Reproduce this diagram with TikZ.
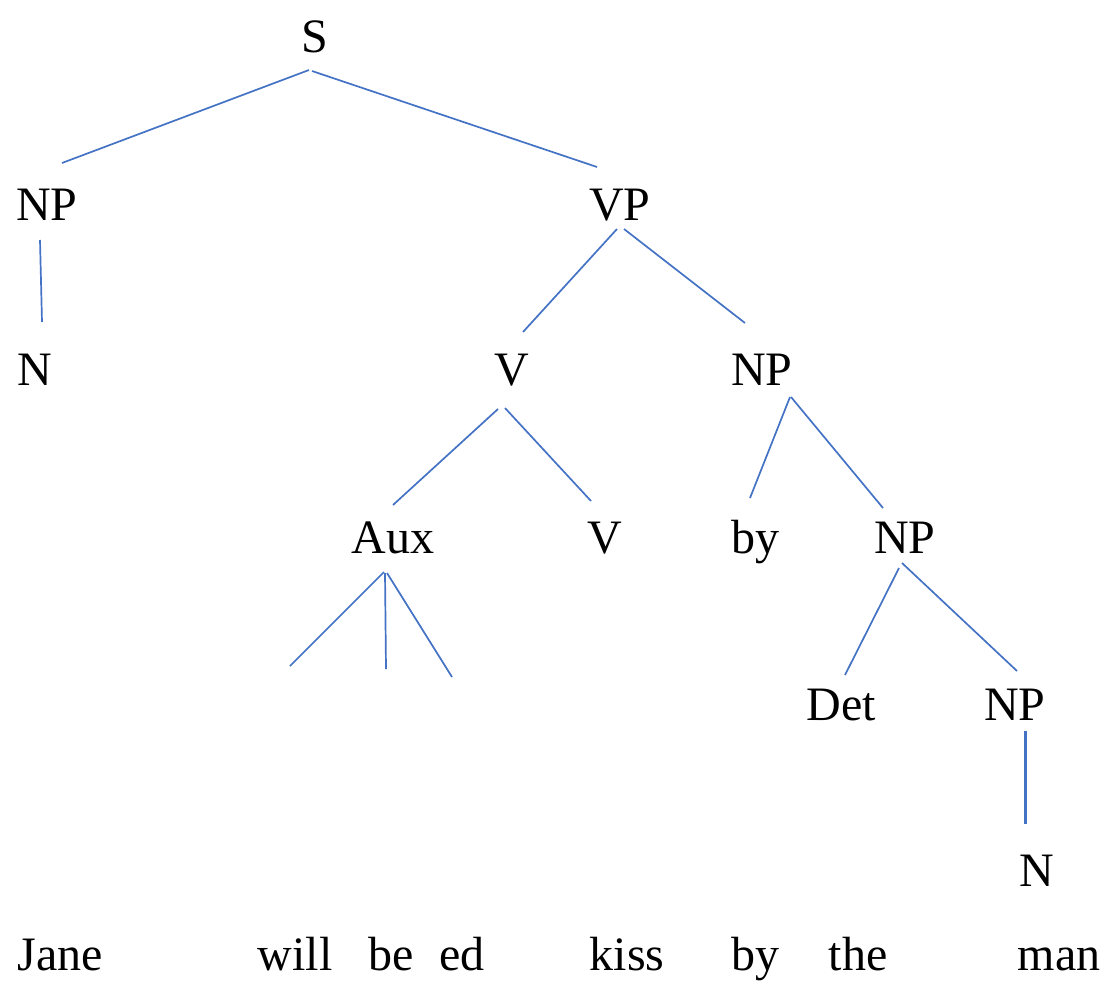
\documentclass[tikz,border=0pt]{standalone}
\usepackage{fontspec}
\setmainfont{Liberation Serif}
\definecolor{branch}{HTML}{4472C4}
\begin{document}
\begin{tikzpicture}[x=1pt,y=-1pt,
  lab/.style={anchor=base,inner sep=0pt,font=\fontsize{48}{56}\selectfont},
  br/.style={draw=branch,line width=1.7pt}]
\useasboundingbox (0,0) rectangle (1114,988);
% labels
\node[lab] (S) at (315,52) {S};
\node[lab] (NP1) at (47,220) {NP};
\node[lab] (VP) at (620,220) {VP};
\node[lab] (N1) at (35,385) {N};
\node[lab] (V1) at (512,385) {V};
\node[lab] (NP2) at (762,385) {NP};
\node[lab] (Aux) at (393,553) {Aux};
\node[lab] (V2) at (605,553) {V};
\node[lab] (by1) at (755,553) {by};
\node[lab] (NP3) at (905,553) {NP};
\node[lab] (Det) at (841,720) {Det};
\node[lab] (NP4) at (1015,720) {NP};
\node[lab] (N2) at (1037,886) {N};
% words
\node[lab] (w1) at (60,970) {Jane};
\node[lab] (w2) at (295,970) {will};
\node[lab] (w3) at (391,970) {be};
\node[lab] (w4) at (462,970) {ed};
\node[lab] (w5) at (627,970) {kiss};
\node[lab] (w6) at (755,970) {by};
\node[lab] (w7) at (858,970) {the};
\node[lab] (w8) at (1059,970) {man};
% branch end points
\coordinate (sA) at (309,70);  \coordinate (sB) at (62,163);
\coordinate (sC) at (312,71);  \coordinate (sD) at (597,167);
\coordinate (npA) at (40,240); \coordinate (npB) at (42,322);
\coordinate (vpA) at (617,229); \coordinate (vpB) at (523,332);
\coordinate (vpC) at (624,229); \coordinate (vpD) at (745,323);
\coordinate (vA) at (498,409); \coordinate (vB) at (393,505);
\coordinate (vC) at (505,408); \coordinate (vD) at (591,501);
\coordinate (npC) at (790,397); \coordinate (npD) at (750,498);
\coordinate (npE) at (791,397); \coordinate (npF) at (883,508);
\coordinate (auxA) at (384,572); \coordinate (auxB) at (290,666);
\coordinate (auxC) at (385,573); \coordinate (auxD) at (386,669);
\coordinate (auxE) at (387,573); \coordinate (auxF) at (452,677);
\coordinate (np3A) at (899,568); \coordinate (np3B) at (845,675);
\coordinate (np3C) at (902,563); \coordinate (np3D) at (1017,671);
\coordinate (np4A) at (1025,731); \coordinate (np4B) at (1025,824);
% branches
\draw[br] (sA) -- (sB);
\draw[br] (sC) -- (sD);
\draw[br] (npA) -- (npB);
\draw[br] (vpA) -- (vpB);
\draw[br] (vpC) -- (vpD);
\draw[br] (vA) -- (vB);
\draw[br] (vC) -- (vD);
\draw[br] (npC) -- (npD);
\draw[br] (npE) -- (npF);
\draw[br] (auxA) -- (auxB);
\draw[br] (auxC) -- (auxD);
\draw[br] (auxE) -- (auxF);
\draw[br] (np3A) -- (np3B);
\draw[br] (np3C) -- (np3D);
\draw[br,line width=3pt] (np4A) -- (np4B);
\end{tikzpicture}
\end{document}
